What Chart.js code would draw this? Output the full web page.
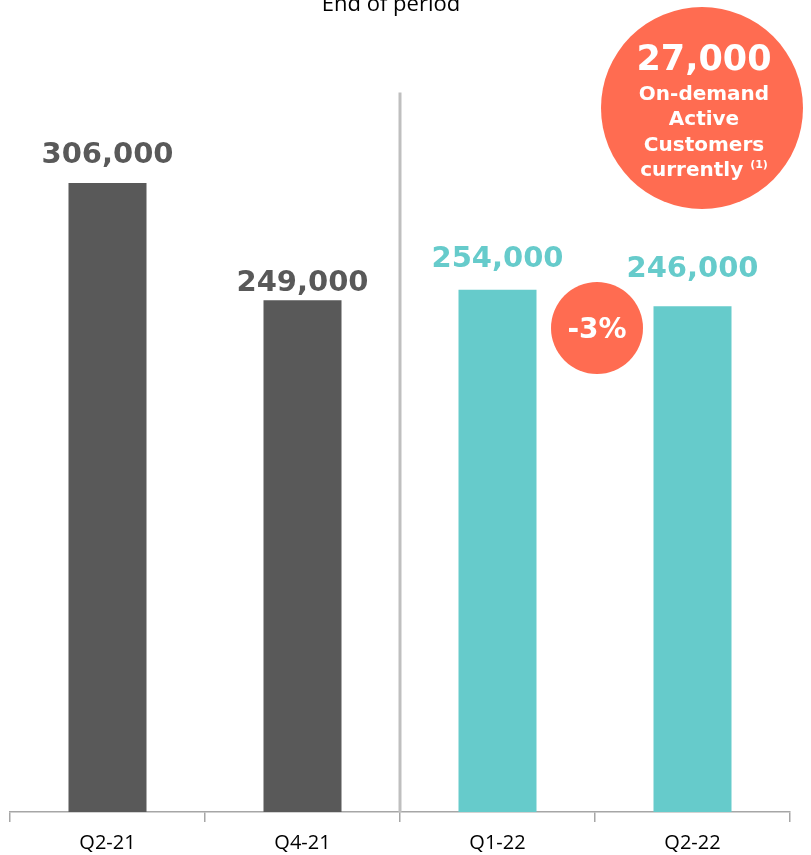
<!DOCTYPE html>
<html lang="en">
<head>
    <meta charset="UTF-8">
    <title>Active Customers</title>
    <script src="https://cdn.jsdelivr.net/npm/chart.js@4.4.1/dist/chart.umd.min.js"></script>
    <style>
        body { margin: 0; background: #fff; }
        canvas { display: block; }
    </style>
</head>
<body>
    <canvas id="customersChart" width="811" height="855"></canvas>

    <script>
        // quarters and end-of-period customer counts
        const categories = ['Q2-21', 'Q4-21', 'Q1-22', 'Q2-22'];
        const customers = [306000, 249000, 254000, 246000];
        const onDemandCurrent = 27000;

        const barColors = ['#595959', '#595959', '#66CBCB', '#66CBCB'];
        const labelGap = [20, 9, 23, 29]; // baseline distance above each bar
        const accent = '#FF6C51';
        const boldFont = '"DejaVu Sans", sans-serif';

        const fmt = v => v.toLocaleString('en-US');

        // separator line, value labels, title and callout circles
        const overlays = {
            id: 'overlays',
            beforeDatasetsDraw(chart) {
                const ctx = chart.ctx;
                const x = chart.scales.x;
                const area = chart.chartArea;
                const sepX = (x.getPixelForValue(1) + x.getPixelForValue(2)) / 2;
                ctx.save();
                ctx.strokeStyle = '#BFBFBF';
                ctx.lineWidth = 3;
                ctx.beginPath();
                ctx.moveTo(sepX, area.top);
                ctx.lineTo(sepX, area.bottom);
                ctx.stroke();
                ctx.restore();
            },
            afterDatasetsDraw(chart) {
                const ctx = chart.ctx;
                const meta = chart.getDatasetMeta(0);
                ctx.save();
                ctx.textAlign = 'center';
                ctx.textBaseline = 'alphabetic';

                // title
                ctx.fillStyle = '#000';
                ctx.font = '22px "Open Sans", sans-serif';
                ctx.fillText('End of period', 391, 11);

                // value labels
                ctx.font = 'bold 29px ' + boldFont;
                meta.data.forEach((bar, i) => {
                    ctx.fillStyle = barColors[i];
                    ctx.fillText(fmt(customers[i]), bar.x, bar.y - labelGap[i]);
                });

                // change between the last two quarters
                const n = customers.length;
                const change = Math.round((customers[n - 1] - customers[n - 2]) / customers[n - 2] * 100);
                const cx = (meta.data[n - 2].x + meta.data[n - 1].x) / 2 + 2;
                ctx.fillStyle = accent;
                ctx.beginPath();
                ctx.arc(cx, 328, 46, 0, Math.PI * 2);
                ctx.fill();
                ctx.fillStyle = '#fff';
                ctx.font = 'bold 28px ' + boldFont;
                ctx.fillText(change + '%', cx, 338);

                // on-demand callout
                ctx.fillStyle = accent;
                ctx.beginPath();
                ctx.arc(702, 108, 101, 0, Math.PI * 2);
                ctx.fill();
                ctx.fillStyle = '#fff';
                ctx.font = 'bold 35px ' + boldFont;
                ctx.fillText(fmt(onDemandCurrent), 704, 70);
                ctx.font = 'bold 20px ' + boldFont;
                ctx.fillText('On-demand', 704, 100);
                ctx.fillText('Active', 704, 125);
                ctx.fillText('Customers', 704, 151);
                const w1 = ctx.measureText('currently ').width;
                ctx.font = 'bold 11px ' + boldFont;
                const w2 = ctx.measureText('(1)').width;
                const left = 704 - (w1 + w2) / 2;
                ctx.textAlign = 'left';
                ctx.fillText('(1)', left + w1, 168);
                ctx.font = 'bold 20px ' + boldFont;
                ctx.fillText('currently', left, 176);
                ctx.restore();
            }
        };

        const ctx = document.getElementById('customersChart').getContext('2d');
        new Chart(ctx, {
            type: 'bar',
            data: {
                labels: categories,
                datasets: [{
                    data: customers,
                    backgroundColor: barColors,
                    borderWidth: 0,
                    barPercentage: 0.4,
                    categoryPercentage: 1
                }]
            },
            options: {
                responsive: false,
                animation: false,
                layout: { padding: { left: 10, right: 21, top: 92.5, bottom: 0 } },
                plugins: {
                    legend: { display: false },
                    tooltip: { enabled: false }
                },
                scales: {
                    y: { display: false, min: 0, max: 350000 },
                    x: {
                        afterFit: s => { s.height = 43; },
                        grid: {
                            drawOnChartArea: false,
                            color: '#A6A6A6',
                            lineWidth: 1.5,
                            tickLength: 10
                        },
                        border: { color: '#A6A6A6', width: 1.5 },
                        ticks: {
                            color: '#000',
                            padding: 9,
                            font: { family: '"Open Sans", sans-serif', size: 20 }
                        }
                    }
                }
            },
            plugins: [overlays]
        });
    </script>
</body>
</html>
